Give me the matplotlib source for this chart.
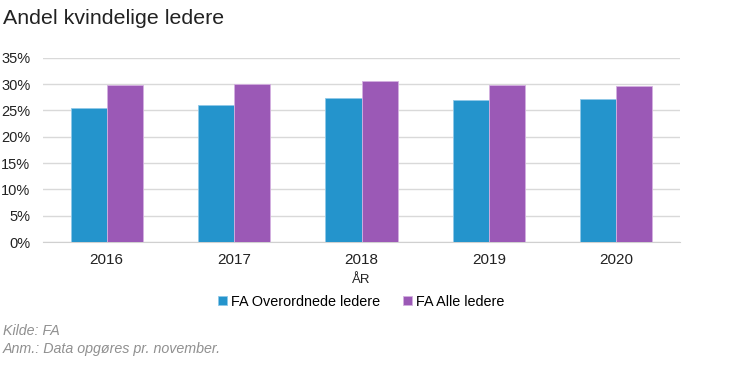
import matplotlib
matplotlib.use("Agg")
import matplotlib.pyplot as plt
import numpy as np
from matplotlib.ticker import PercentFormatter

years = ["2016", "2017", "2018", "2019", "2020"]
overordnede = [25.4, 26.0, 27.3, 27.0, 27.1]
alle = [29.8, 30.0, 30.55, 29.9, 29.65]
series_names = ["FA Overordnede ledere", "FA Alle ledere"]
colors = ["#2494CC", "#9B59B6"]

plt.rcParams['font.family'] = ['Liberation Sans', 'DejaVu Sans']

fig = plt.figure(figsize=(7.3, 3.65), dpi=100)
ax = fig.add_axes([43/730, 1 - 242/365, (680-43)/730, (242-57.7)/365])

x = np.arange(len(years))
w = 0.283
ax.bar(x - w/2, overordnede, w, color=colors[0], edgecolor="#8fc8e8", linewidth=0.6, label=series_names[0], zorder=3)
ax.bar(x + w/2, alle, w, color=colors[1], edgecolor="#d4b0e0", linewidth=0.6, label=series_names[1], zorder=3)

ax.set_xlim(-0.5, len(years) - 0.5)
ax.set_ylim(0, 35)
ax.set_yticks(np.arange(0, 36, 5))
ax.yaxis.set_major_formatter(PercentFormatter(decimals=0))
ax.set_xticks(x)
ax.set_xticklabels(years)
ax.grid(axis='y', color='#d9d9d9', linewidth=1, zorder=0)
for s in ['left', 'right', 'top']:
    ax.spines[s].set_visible(False)
ax.spines['bottom'].set_color('#d0d0d0')
ax.tick_params(axis='both', length=0, colors='#222222')
ax.tick_params(axis='y', pad=9, labelsize=10.5)
ax.tick_params(axis='x', pad=8, labelsize=11)
ax.set_xlabel("ÅR", fontsize=9.5, color='#222222', labelpad=5)

leg = ax.legend(loc='upper center', bbox_to_anchor=(0.5, -0.215), ncol=2, frameon=False,
                fontsize=10.4, handlelength=0.6, handleheight=0.6, handletextpad=0.3, columnspacing=1.6)

fig.text(3/730, 1 - 18/365, "Andel kvindelige ledere", fontsize=15.4, color='#222222', va='center', ha='left')
fig.text(3/730, 1 - 331/365, "Kilde: FA", fontsize=10.3, color='#909090', style='italic', va='center', ha='left')
fig.text(3/730, 1 - 349/365, "Anm.: Data opgøres pr. november.", fontsize=10.3, color='#909090', style='italic', va='center', ha='left')

fig.savefig("out.png", dpi=100, facecolor='white')
